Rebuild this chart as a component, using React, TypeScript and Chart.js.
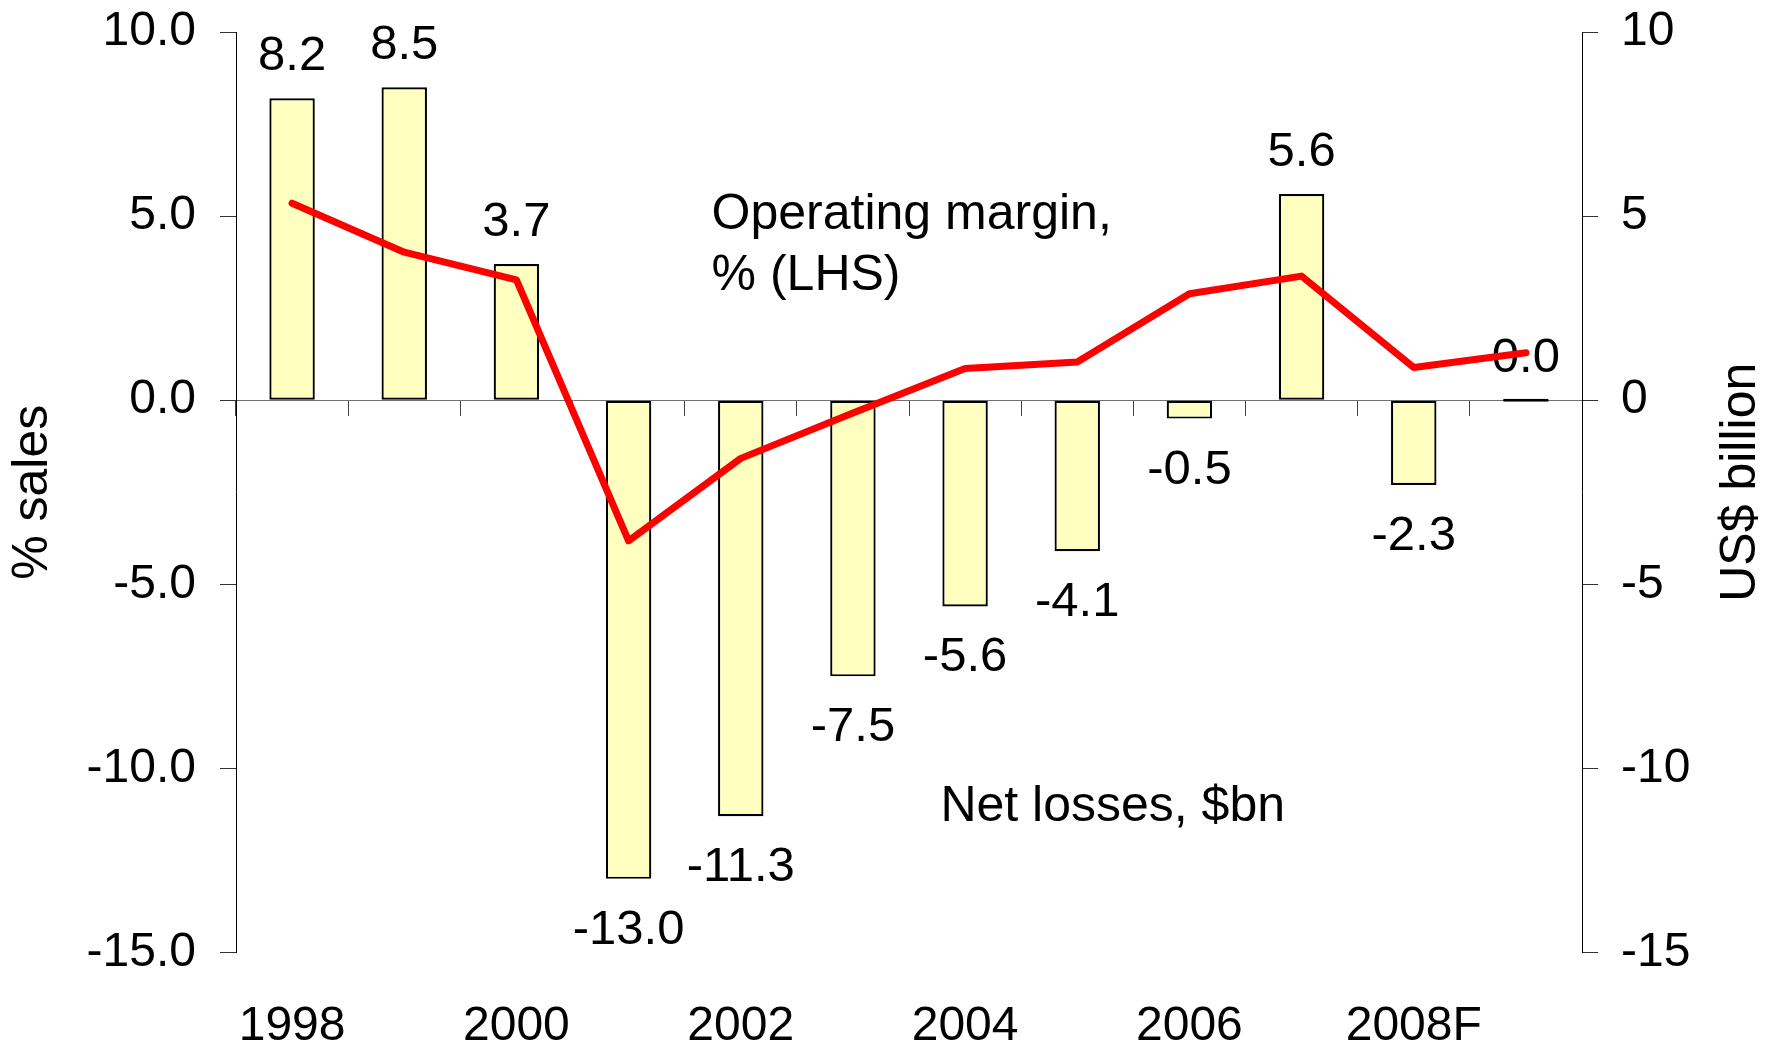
import React, { useEffect, useRef } from "react";
import { Chart, registerables } from "chart.js";

Chart.register(...registerables);

const categories = ["1998", "1999", "2000", "2001", "2002", "2003", "2004", "2005", "2006", "2007", "2008F", "2009F"];
const netLosses = [8.2, 8.5, 3.7, -13.0, -11.3, -7.5, -5.6, -4.1, -0.5, 5.6, -2.3, 0.0];
const operatingMargin = [5.35, 4.02, 3.27, -3.82, -1.58, -0.35, 0.86, 1.04, 2.89, 3.37, 0.89, 1.29];
const leftAxisTitle = "% sales";
const rightAxisTitle = "US$ billion";
const marginNote = ["Operating margin,", "% (LHS)"];
const lossNote = "Net losses, $bn";

const FONT = "'Liberation Sans', Arial, Helvetica, sans-serif";

const barLabelPlugin = {
  id: "barLabels",
  afterDatasetDraw(chart: any, args: any) {
    if (args.index !== 0) return;
    const ctx = chart.ctx;
    const meta = chart.getDatasetMeta(0);
    ctx.save();
    ctx.font = `49px ${FONT}`;
    ctx.fillStyle = "#000";
    ctx.textAlign = "center";
    ctx.textBaseline = "alphabetic";
    meta.data.forEach((el: any, i: number) => {
      const v = netLosses[i];
      const y0 = chart.scales.y1.getPixelForValue(v);
      const y = v >= 0 ? y0 - 28 : y0 + 65;
      ctx.fillText(v.toFixed(1), el.x, y);
    });
    ctx.restore();
  },
};

const notesPlugin = {
  id: "notes",
  afterDraw(chart: any) {
    const ctx = chart.ctx;
    const xs = chart.scales.x;
    const ys = chart.scales.y;
    const area = chart.chartArea;
    ctx.save();
    ctx.fillStyle = "#000";
    ctx.font = `50px ${FONT}`;
    ctx.textAlign = "left";
    ctx.textBaseline = "alphabetic";
    ctx.fillText(marginNote[0], xs.getPixelForValue(3.74), ys.getPixelForValue(4.64));
    ctx.fillText(marginNote[1], xs.getPixelForValue(3.74), ys.getPixelForValue(2.98));
    ctx.fillText(lossNote, xs.getPixelForValue(5.78), ys.getPixelForValue(-11.42));
    // right axis title, reading bottom-to-top
    ctx.translate(chart.width - 37, (area.top + area.bottom) / 2 - 10);
    ctx.rotate(-Math.PI / 2);
    ctx.textAlign = "center";
    ctx.textBaseline = "middle";
    ctx.fillText(rightAxisTitle, 0, 0);
    ctx.restore();
  },
};

export default function App() {
  const canvasRef = useRef<HTMLCanvasElement | null>(null);

  useEffect(() => {
    document.body.style.margin = "0";
    const canvas = canvasRef.current;
    if (!canvas) return;
    const tickFont = { family: FONT, size: 48 };
    const chart = new Chart(canvas, {
      type: "bar",
      data: {
        labels: categories,
        datasets: [
          {
            type: "bar",
            label: "Net losses, $bn",
            data: netLosses,
            xAxisID: "x",
            yAxisID: "y1",
            backgroundColor: "#FFFFC0",
            borderColor: "#000000",
            borderWidth: 2.2,
            borderSkipped: false,
            barPercentage: 0.405,
            categoryPercentage: 1,
            minBarLength: 3,
            order: 1,
          } as any,
          {
            type: "line",
            label: "Operating margin, % (LHS)",
            data: operatingMargin,
            xAxisID: "x",
            yAxisID: "y",
            borderColor: "#FF0000",
            borderWidth: 7,
            pointRadius: 0,
            tension: 0,
            borderCapStyle: "round",
            borderJoinStyle: "round",
            order: 0,
          } as any,
        ],
      },
      options: {
        animation: false,
        responsive: true,
        maintainAspectRatio: false,
        layout: { padding: { top: 32, left: 0, right: 0, bottom: 0 } },
        plugins: {
          legend: { display: false },
          tooltip: { enabled: false },
        },
        scales: {
          x: {
            type: "category",
            position: "bottom",
            offset: true,
            grid: { display: false, drawTicks: false, offset: true },
            border: { display: false },
            ticks: {
              autoSkip: false,
              maxRotation: 0,
              minRotation: 0,
              padding: 45,
              color: "#000",
              font: tickFont,
              callback: (_v: any, i: number) => (i % 2 === 0 ? categories[i] : ""),
            },
            afterFit: (s: any) => {
              s.height = 96.5;
              s.paddingLeft = 0;
              s.paddingRight = 0;
            },
          },
          xz: {
            type: "category",
            position: { y: 0 } as any,
            offset: true,
            grid: {
              display: true,
              drawOnChartArea: false,
              drawTicks: true,
              offset: true,
              tickLength: 16,
              color: "#444",
              lineWidth: 1,
            },
            border: { display: false },
            ticks: { display: false, autoSkip: false },
          } as any,
          y: {
            type: "linear",
            position: "left",
            min: -15,
            max: 10,
            ticks: {
              stepSize: 5,
              padding: 24,
              color: "#000",
              font: tickFont,
              callback: (v: any) => Number(v).toFixed(1),
            },
            grid: {
              drawOnChartArea: true,
              drawTicks: true,
              tickLength: 16,
              color: (c: any) => (c.tick && c.tick.value === 0 ? "#707070" : "rgba(0,0,0,0)"),
              tickColor: "#333",
              lineWidth: 1,
            },
            border: { display: true, color: "#000", width: 1 },
            title: {
              display: true,
              text: leftAxisTitle,
              color: "#000",
              font: { family: FONT, size: 50 },
              padding: { top: 3, bottom: 0 },
            },
            afterFit: (s: any) => {
              s.width = 236;
              s.paddingTop = 0;
              s.paddingBottom = 0;
            },
          },
          y1: {
            type: "linear",
            position: "right",
            min: -15,
            max: 10,
            ticks: {
              stepSize: 5,
              padding: 23,
              color: "#000",
              font: tickFont,
              callback: (v: any) => String(Math.round(Number(v))),
            },
            grid: {
              drawOnChartArea: false,
              drawTicks: true,
              tickLength: 16,
              color: "#333",
              lineWidth: 1,
            },
            border: { display: true, color: "#000", width: 1 },
            afterFit: (s: any) => {
              s.width = 196;
              s.paddingTop = 0;
              s.paddingBottom = 0;
            },
          },
        },
      } as any,
      plugins: [barLabelPlugin, notesPlugin],
    });
    return () => chart.destroy();
  }, []);

  return (
    <div style={{ width: "1778px", height: "1049px", position: "relative", background: "#fff" }}>
      <canvas ref={canvasRef} />
    </div>
  );
}
